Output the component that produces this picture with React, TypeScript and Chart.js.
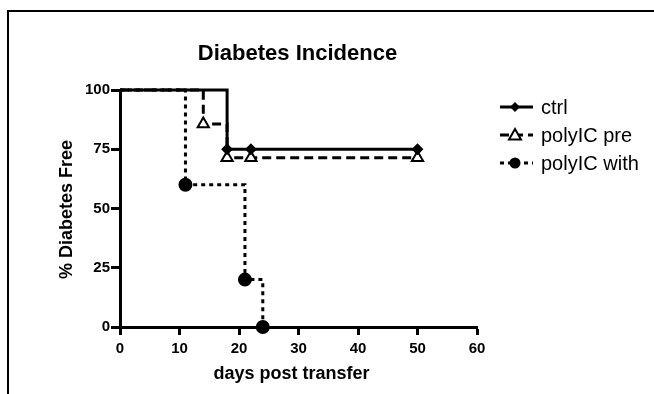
import React, { useEffect, useRef } from "react";
import { Chart, registerables } from "chart.js";

Chart.register(...registerables);

const chartTitle = "Diabetes Incidence";
const xAxisTitle = "days post transfer";
const yAxisTitle = "% Diabetes Free";
const seriesNames = ["ctrl", "polyIC pre", "polyIC with"];

const ctrlDays = [0, 18, 22, 50];
const ctrlValues = [100, 75, 75, 75];
const preDays = [0, 14, 18, 22, 50];
const preValues = [100, 85.7, 71.4, 71.4, 71.4];
const withDays = [0, 11, 21, 24];
const withValues = [100, 60, 20, 0];

const xTicksStep = 10;
const yTicksStep = 25;

const FONT = "Arial, 'Liberation Sans', sans-serif";

function pts(xs: number[], ys: number[]) {
  return xs.map((x, i) => ({ x, y: ys[i] }));
}

function radii(n: number, r: number) {
  return Array.from({ length: n }, (_, i) => (i === 0 ? 0 : r));
}

const styles = [
  { dash: [] as number[], point: "rectRot", r: 4.5, fill: "#000" },
  { dash: [9, 5], point: "triangle", r: 6.5, fill: "#fff" },
  { dash: [4, 4], point: "circle", r: 6, fill: "#000" },
];

const overlayPlugin = {
  id: "overlay",
  afterDraw(chart: any) {
    const ctx = chart.ctx as CanvasRenderingContext2D;
    const a = chart.chartArea;
    const cx = (a.left + a.right) / 2;
    ctx.save();
    ctx.fillStyle = "#000";
    ctx.textAlign = "center";
    ctx.textBaseline = "middle";
    ctx.font = `bold 22px ${FONT}`;
    ctx.fillText(chartTitle, cx - 1, 54);
    ctx.font = `bold 18px ${FONT}`;
    ctx.fillText(xAxisTitle, cx - 7, 374);
    ctx.save();
    ctx.translate(67, (a.top + a.bottom) / 2 + 1);
    ctx.rotate(-Math.PI / 2);
    ctx.fillText(yAxisTitle, 0, 0);
    ctx.restore();

    // legend
    const ys = [107, 135, 163];
    seriesNames.forEach((name, i) => {
      const s = styles[i];
      const y = ys[i];
      ctx.save();
      ctx.strokeStyle = "#000";
      ctx.lineWidth = 3;
      ctx.setLineDash(s.dash);
      ctx.beginPath();
      ctx.moveTo(500, y);
      ctx.lineTo(533, y);
      ctx.stroke();
      ctx.setLineDash([]);
      ctx.lineWidth = 2;
      ctx.fillStyle = s.fill;
      ctx.beginPath();
      const px = 515;
      if (s.point === "rectRot") {
        const r = 5;
        ctx.moveTo(px, y - r);
        ctx.lineTo(px + r, y);
        ctx.lineTo(px, y + r);
        ctx.lineTo(px - r, y);
        ctx.closePath();
        ctx.fill();
      } else if (s.point === "triangle") {
        const r = 6;
        ctx.moveTo(px, y - r);
        ctx.lineTo(px + r, y + r * 0.75);
        ctx.lineTo(px - r, y + r * 0.75);
        ctx.closePath();
        ctx.fill();
        ctx.stroke();
      } else {
        ctx.arc(px, y, 5.5, 0, Math.PI * 2);
        ctx.fill();
      }
      ctx.restore();
      ctx.fillStyle = "#000";
      ctx.textAlign = "left";
      ctx.font = `20px ${FONT}`;
      ctx.fillText(name, 541, y + 1);
    });
    ctx.restore();
  },
};

export default function App() {
  const ref = useRef<HTMLCanvasElement | null>(null);
  useEffect(() => {
    if (!ref.current) return;
    const series = [pts(ctrlDays, ctrlValues), pts(preDays, preValues), pts(withDays, withValues)];
    const chart = new Chart(ref.current, {
      type: "line",
      data: {
        datasets: series.map((d, i) => ({
          label: seriesNames[i],
          data: d,
          stepped: true,
          borderColor: "#000",
          borderWidth: 3,
          borderDash: styles[i].dash,
          pointStyle: styles[i].point as any,
          pointRadius: radii(d.length, styles[i].r),
          pointBackgroundColor: styles[i].fill,
          pointBorderColor: "#000",
          pointBorderWidth: 2,
          fill: false,
          clip: false as any,
        })),
      },
      options: {
        responsive: false,
        animation: false,
        devicePixelRatio: 1,
        layout: { padding: { left: 0, top: 90, right: 177, bottom: 0 } },
        plugins: { legend: { display: false }, title: { display: false }, tooltip: { enabled: false } },
        scales: {
          x: {
            type: "linear",
            min: 0,
            max: 60,
            afterFit: (s: any) => {
              s.height = 67;
            },
            ticks: { stepSize: xTicksStep, color: "#000", font: { family: FONT, size: 15, weight: "bold" }, padding: 5 },
            grid: { drawOnChartArea: false, drawTicks: true, tickLength: 8, tickWidth: 3, tickColor: "#000", color: "#000" },
            border: { display: true, color: "#000", width: 3 },
          },
          y: {
            type: "linear",
            min: 0,
            max: 100,
            afterFit: (s: any) => {
              s.width = 120;
            },
            ticks: { stepSize: yTicksStep, color: "#000", font: { family: FONT, size: 15, weight: "bold" }, padding: 1 },
            grid: { drawOnChartArea: false, drawTicks: true, tickLength: 9, tickWidth: 3, tickColor: "#000", color: "#000" },
            border: { display: true, color: "#000", width: 3 },
          },
        },
      },
      plugins: [overlayPlugin],
    });
    return () => chart.destroy();
  }, []);
  return (
    <div>
      <div
        style={{
          position: "fixed",
          left: 7,
          top: 10,
          width: 800,
          height: 600,
          borderLeft: "2px solid #000",
          borderTop: "2px solid #000",
          boxSizing: "border-box",
        }}
      />
      <canvas
        ref={ref}
        width={654}
        height={394}
        style={{ position: "fixed", left: 0, top: 0, width: 654, height: 394 }}
      />
    </div>
  );
}
